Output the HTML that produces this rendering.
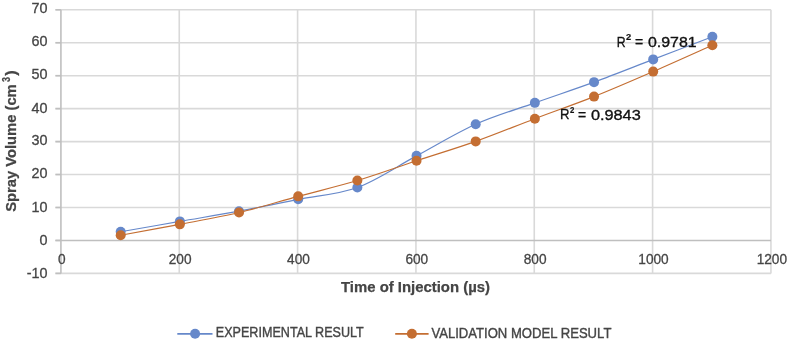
<!DOCTYPE html>
<html><head><meta charset="utf-8"><style>
html,body{margin:0;padding:0;background:#fff;}
svg{display:block;filter:blur(0.3px);}
text{font-family:"Liberation Sans",sans-serif;}
.ax{font-size:14.6px;fill:#454545;stroke:#454545;stroke-width:0.3px;}
.ttl{font-weight:bold;fill:#454545;stroke:#454545;stroke-width:0.25px;}
.lg{fill:#454545;stroke:#454545;stroke-width:0.4px;}
.r2{fill:#111;stroke:#111;stroke-width:0.35px;}
.r2s{fill:#111;stroke:#111;stroke-width:0.2px;font-weight:bold;}
</style></head><body>
<svg width="790" height="341" viewBox="0 0 790 341">
<rect width="790" height="341" fill="#fff"/>
<line x1="55.42" y1="273.39" x2="770.94" y2="273.39" stroke="#d9d9d9" stroke-width="1.6"/>
<line x1="55.42" y1="207.49" x2="770.94" y2="207.49" stroke="#d9d9d9" stroke-width="1.6"/>
<line x1="55.42" y1="174.54" x2="770.94" y2="174.54" stroke="#d9d9d9" stroke-width="1.6"/>
<line x1="55.42" y1="141.59" x2="770.94" y2="141.59" stroke="#d9d9d9" stroke-width="1.6"/>
<line x1="55.42" y1="108.64" x2="770.94" y2="108.64" stroke="#d9d9d9" stroke-width="1.6"/>
<line x1="55.42" y1="75.69" x2="770.94" y2="75.69" stroke="#d9d9d9" stroke-width="1.6"/>
<line x1="55.42" y1="42.74" x2="770.94" y2="42.74" stroke="#d9d9d9" stroke-width="1.6"/>
<line x1="55.42" y1="9.79" x2="770.94" y2="9.79" stroke="#d9d9d9" stroke-width="1.6"/>
<line x1="179.26" y1="9.79" x2="179.26" y2="273.39" stroke="#d9d9d9" stroke-width="1.6"/>
<line x1="297.59" y1="9.79" x2="297.59" y2="273.39" stroke="#d9d9d9" stroke-width="1.6"/>
<line x1="415.93" y1="9.79" x2="415.93" y2="273.39" stroke="#d9d9d9" stroke-width="1.6"/>
<line x1="534.26" y1="9.79" x2="534.26" y2="273.39" stroke="#d9d9d9" stroke-width="1.6"/>
<line x1="652.60" y1="9.79" x2="652.60" y2="273.39" stroke="#d9d9d9" stroke-width="1.6"/>
<line x1="770.94" y1="9.79" x2="770.94" y2="273.39" stroke="#d9d9d9" stroke-width="1.6"/>
<line x1="55.42" y1="240.44" x2="770.94" y2="240.44" stroke="#bfbfbf" stroke-width="1.6"/>
<line x1="60.92" y1="9.79" x2="60.92" y2="273.39" stroke="#bfbfbf" stroke-width="1.6"/>
<line x1="55.42" y1="273.39" x2="60.92" y2="273.39" stroke="#bfbfbf" stroke-width="1.6"/>
<line x1="55.42" y1="240.44" x2="60.92" y2="240.44" stroke="#bfbfbf" stroke-width="1.6"/>
<line x1="55.42" y1="207.49" x2="60.92" y2="207.49" stroke="#bfbfbf" stroke-width="1.6"/>
<line x1="55.42" y1="174.54" x2="60.92" y2="174.54" stroke="#bfbfbf" stroke-width="1.6"/>
<line x1="55.42" y1="141.59" x2="60.92" y2="141.59" stroke="#bfbfbf" stroke-width="1.6"/>
<line x1="55.42" y1="108.64" x2="60.92" y2="108.64" stroke="#bfbfbf" stroke-width="1.6"/>
<line x1="55.42" y1="75.69" x2="60.92" y2="75.69" stroke="#bfbfbf" stroke-width="1.6"/>
<line x1="55.42" y1="42.74" x2="60.92" y2="42.74" stroke="#bfbfbf" stroke-width="1.6"/>
<line x1="55.42" y1="9.79" x2="60.92" y2="9.79" stroke="#bfbfbf" stroke-width="1.6"/>
<text x="47.6" y="277.72" text-anchor="end" class="ax" textLength="20.80" lengthAdjust="spacingAndGlyphs">-10</text>
<text x="47.6" y="245.07" text-anchor="end" class="ax" textLength="8.00" lengthAdjust="spacingAndGlyphs">0</text>
<text x="47.6" y="211.72" text-anchor="end" class="ax" textLength="16.00" lengthAdjust="spacingAndGlyphs">10</text>
<text x="47.6" y="177.87" text-anchor="end" class="ax" textLength="16.00" lengthAdjust="spacingAndGlyphs">20</text>
<text x="47.6" y="144.72" text-anchor="end" class="ax" textLength="16.00" lengthAdjust="spacingAndGlyphs">30</text>
<text x="47.6" y="112.57" text-anchor="end" class="ax" textLength="16.00" lengthAdjust="spacingAndGlyphs">40</text>
<text x="47.6" y="79.32" text-anchor="end" class="ax" textLength="16.00" lengthAdjust="spacingAndGlyphs">50</text>
<text x="47.6" y="45.87" text-anchor="end" class="ax" textLength="16.00" lengthAdjust="spacingAndGlyphs">60</text>
<text x="47.6" y="12.82" text-anchor="end" class="ax" textLength="16.00" lengthAdjust="spacingAndGlyphs">70</text>
<text x="61.82" y="264.23" text-anchor="middle" class="ax" textLength="7.60" lengthAdjust="spacingAndGlyphs">0</text>
<text x="180.16" y="264.23" text-anchor="middle" class="ax" textLength="22.80" lengthAdjust="spacingAndGlyphs">200</text>
<text x="298.49" y="264.23" text-anchor="middle" class="ax" textLength="22.80" lengthAdjust="spacingAndGlyphs">400</text>
<text x="416.83" y="264.23" text-anchor="middle" class="ax" textLength="22.80" lengthAdjust="spacingAndGlyphs">600</text>
<text x="535.16" y="264.23" text-anchor="middle" class="ax" textLength="22.80" lengthAdjust="spacingAndGlyphs">800</text>
<text x="653.50" y="264.23" text-anchor="middle" class="ax" textLength="30.40" lengthAdjust="spacingAndGlyphs">1000</text>
<text x="771.84" y="264.23" text-anchor="middle" class="ax" textLength="30.40" lengthAdjust="spacingAndGlyphs">1200</text>
<path d="M120.69,231.75 C130.55,230.02 160.13,224.81 179.86,221.38 C199.58,217.95 219.30,214.85 239.02,211.17 C258.75,207.50 278.47,203.27 298.19,199.32 C317.91,195.37 337.64,194.71 357.36,187.47 C377.08,180.23 396.81,166.40 416.53,155.87 C436.25,145.33 455.97,133.10 475.70,124.26 C495.42,115.43 515.14,109.89 534.86,102.87 C554.59,95.84 574.31,89.37 594.03,82.13 C613.75,74.88 633.48,66.98 653.20,59.41 C672.92,51.84 702.51,40.48 712.37,36.70" fill="none" stroke="#6688CA" stroke-width="1.15"/>
<circle cx="120.69" cy="231.75" r="5.0" fill="#6688CA"/>
<circle cx="179.86" cy="221.38" r="5.0" fill="#6688CA"/>
<circle cx="239.02" cy="211.17" r="5.0" fill="#6688CA"/>
<circle cx="298.19" cy="199.32" r="5.0" fill="#6688CA"/>
<circle cx="357.36" cy="187.47" r="5.0" fill="#6688CA"/>
<circle cx="416.53" cy="155.87" r="5.0" fill="#6688CA"/>
<circle cx="475.70" cy="124.26" r="5.0" fill="#6688CA"/>
<circle cx="534.86" cy="102.87" r="5.0" fill="#6688CA"/>
<circle cx="594.03" cy="82.13" r="5.0" fill="#6688CA"/>
<circle cx="653.20" cy="59.41" r="5.0" fill="#6688CA"/>
<circle cx="712.37" cy="36.70" r="5.0" fill="#6688CA"/>
<path d="M120.69,235.20 C130.55,233.39 160.13,228.13 179.86,224.34 C199.58,220.55 219.30,217.15 239.02,212.49 C258.75,207.83 278.47,201.68 298.19,196.36 C317.91,191.04 337.64,186.48 357.36,180.56 C377.08,174.63 396.81,167.33 416.53,160.80 C436.25,154.28 455.97,148.40 475.70,141.38 C495.42,134.36 515.14,126.13 534.86,118.67 C554.59,111.20 574.31,104.46 594.03,96.61 C613.75,88.76 633.48,80.15 653.20,71.59 C672.92,63.03 702.51,49.64 712.37,45.26" fill="none" stroke="#C46E32" stroke-width="1.15"/>
<circle cx="120.69" cy="235.20" r="5.0" fill="#C46E32"/>
<circle cx="179.86" cy="224.34" r="5.0" fill="#C46E32"/>
<circle cx="239.02" cy="212.49" r="5.0" fill="#C46E32"/>
<circle cx="298.19" cy="196.36" r="5.0" fill="#C46E32"/>
<circle cx="357.36" cy="180.56" r="5.0" fill="#C46E32"/>
<circle cx="416.53" cy="160.80" r="5.0" fill="#C46E32"/>
<circle cx="475.70" cy="141.38" r="5.0" fill="#C46E32"/>
<circle cx="534.86" cy="118.67" r="5.0" fill="#C46E32"/>
<circle cx="594.03" cy="96.61" r="5.0" fill="#C46E32"/>
<circle cx="653.20" cy="71.59" r="5.0" fill="#C46E32"/>
<circle cx="712.37" cy="45.26" r="5.0" fill="#C46E32"/>
<text class="lg" x="215.80" y="337.35" font-size="15.00" textLength="148.00" lengthAdjust="spacingAndGlyphs">EXPERIMENTAL RESULT</text>
<text class="lg" x="431.40" y="337.60" font-size="15.00" textLength="180.00" lengthAdjust="spacingAndGlyphs">VALIDATION MODEL RESULT</text>
<text class="ttl" x="341.00" y="292.15" font-size="15.00" textLength="149.00" lengthAdjust="spacingAndGlyphs">Time of Injection (µs)</text>
<text class="r2" x="616.84" y="47.15" font-size="15.40" textLength="8.86" lengthAdjust="spacingAndGlyphs">R</text>
<text class="r2s" x="626.04" y="40.15" font-size="9.80" textLength="5.16" lengthAdjust="spacingAndGlyphs">2</text>
<text class="r2" x="634.88" y="46.98" font-size="15.40" textLength="8.18" lengthAdjust="spacingAndGlyphs">=</text>
<text class="r2" x="647.92" y="46.98" font-size="15.40" textLength="48.70" lengthAdjust="spacingAndGlyphs">0.9781</text>
<text class="r2" x="560.00" y="119.16" font-size="15.40" textLength="9.48" lengthAdjust="spacingAndGlyphs">R</text>
<text class="r2s" x="570.04" y="112.78" font-size="9.80" textLength="4.30" lengthAdjust="spacingAndGlyphs">2</text>
<text class="r2" x="578.04" y="119.79" font-size="15.40" textLength="8.16" lengthAdjust="spacingAndGlyphs">=</text>
<text class="r2" x="590.92" y="119.66" font-size="15.40" textLength="49.84" lengthAdjust="spacingAndGlyphs">0.9843</text>
<text class="ttl" transform="translate(16.00,211.80) rotate(-90)" font-size="15.00" textLength="127.50" lengthAdjust="spacingAndGlyphs">Spray Volume (cm</text>
<text class="ttl" transform="translate(10.45,82.00) rotate(-90)" font-size="10.12" textLength="5.00" lengthAdjust="spacingAndGlyphs">3</text>
<text class="ttl" transform="translate(15.75,75.80) rotate(-90)" font-size="15.00" textLength="5.50" lengthAdjust="spacingAndGlyphs">)</text>
<line x1="177.3" y1="333.9" x2="212.5" y2="333.9" stroke="#6688CA" stroke-width="1.8"/>
<circle cx="195.1" cy="333.8" r="5.0" fill="#6688CA"/>
<line x1="395.2" y1="333.9" x2="428.6" y2="333.9" stroke="#C46E32" stroke-width="1.8"/>
<circle cx="411.9" cy="333.8" r="5.0" fill="#C46E32"/>
</svg>
</body></html>
